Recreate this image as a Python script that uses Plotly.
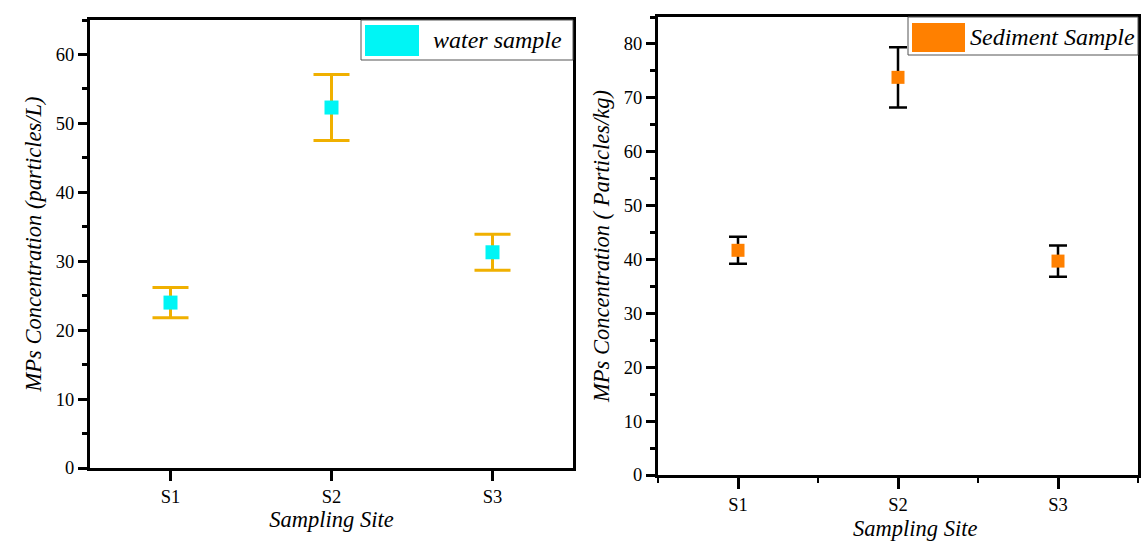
import plotly.graph_objects as go

sites = ["S1", "S2", "S3"]
water_mean = [24.0, 52.3, 31.3]
water_err = [2.2, 4.8, 2.6]
sed_mean = [41.7, 73.8, 39.7]
sed_err = [2.5, 5.6, 2.9]

xpos = list(range(1, len(sites) + 1))
FONT = "Liberation Serif"

fig = go.Figure()
fig.add_trace(go.Scatter(
    x=xpos, y=water_mean, mode="markers", name="water sample",
    marker=dict(symbol="square", size=14, color="#00F5F5"),
    error_y=dict(type="data", array=water_err, color="#F0B000", thickness=3, width=18),
    xaxis="x", yaxis="y", showlegend=False))
fig.add_trace(go.Scatter(
    x=xpos, y=sed_mean, mode="markers", name="Sediment Sample",
    marker=dict(symbol="square", size=13, color="#FF8000"),
    error_y=dict(type="data", array=sed_err, color="black", thickness=2.5, width=9),
    xaxis="x2", yaxis="y2", showlegend=False))

W, H = 1144, 548
ax_common = dict(showline=True, linecolor="black", mirror=True, showgrid=False, zeroline=False, automargin=False,
                 ticks="outside", tickcolor="black", tickfont=dict(family=FONT, size=18.5, color="black"))
TFONT = dict(family=FONT, size=22.5, color="black")

fig.update_layout(
    width=W, height=H, margin=dict(l=0, r=0, t=0, b=0),
    paper_bgcolor="white", plot_bgcolor="white",
    xaxis=dict(domain=[90/W, 573/W], range=[0.5, 3.5], tickvals=xpos, ticktext=sites,
               linewidth=3, tickwidth=3, ticklen=10, anchor="y",
               title=dict(text="<i>Sampling Site</i>", font=TFONT, standoff=0),
               **ax_common),
    yaxis=dict(domain=[(H-468)/H, (H-20)/H], range=[0, 65], tickvals=[0, 10, 20, 30, 40, 50, 60],
               linewidth=3, tickwidth=3, ticklen=9, anchor="x",
               minor=dict(dtick=5, ticklen=5, tickwidth=3, tickcolor="black", ticks="outside"),
               title=dict(text="<i>MPs Concentration (particles/L)</i>", font=TFONT, standoff=8),
               **ax_common),
    xaxis2=dict(domain=[658/W, 1138/W], range=[0.5, 3.5], tickvals=xpos, ticktext=sites,
                linewidth=3, tickwidth=3, ticklen=11, anchor="y2",
                minor=dict(tickvals=[0.5, 1.5, 2.5, 3.5], ticklen=5, tickwidth=2, tickcolor="black", ticks="outside"),
                **ax_common),
    yaxis2=dict(domain=[(H-475)/H, (H-17)/H], range=[0, 85], tickvals=[0, 10, 20, 30, 40, 50, 60, 70, 80],
                linewidth=3, tickwidth=3, ticklen=9, anchor="x2",
                minor=dict(dtick=5, ticklen=5, tickwidth=3, tickcolor="black", ticks="outside"),
                title=dict(text="<i>MPs Concentration ( Particles/kg)</i>", font=TFONT, standoff=8),
                **ax_common),
)

# right x-axis title sits tight under the tick labels
fig.add_annotation(xref="paper", yref="paper", x=915/W, y=(H-528)/H, xanchor="center", yanchor="middle",
                   text="<i>Sampling Site</i>", showarrow=False, font=TFONT)

# manual legends
fig.add_shape(type="rect", xref="x domain", yref="y domain", x0=(361-90)/483, x1=1.0, y0=1-(60-20)/448, y1=1.0,
              line=dict(color="#555555", width=1), fillcolor="white")
fig.add_shape(type="rect", xref="x domain", yref="y domain", x0=(365-90)/483, x1=(419-90)/483,
              y0=1-(56-20)/448, y1=1-(25-20)/448, line=dict(width=0), fillcolor="#00F5F5")
fig.add_annotation(xref="x domain", yref="y domain", x=(431-90)/483, y=1-(40-20)/448, xanchor="left", yanchor="middle",
                   text="<i>water sample</i>", showarrow=False, font=dict(family=FONT, size=24, color="black"))

fig.add_shape(type="rect", xref="x2 domain", yref="y2 domain", x0=(908-658)/480, x1=1.0, y0=1-(55-17)/458, y1=1.0,
              line=dict(color="#555555", width=1), fillcolor="white")
fig.add_shape(type="rect", xref="x2 domain", yref="y2 domain", x0=(912-658)/480, x1=(965-658)/480,
              y0=1-(52-17)/458, y1=1-(23-17)/458, line=dict(width=0), fillcolor="#FF8000")
fig.add_annotation(xref="x2 domain", yref="y2 domain", x=(968-658)/480, y=1-(37-17)/458, xanchor="left", yanchor="middle",
                   text="<i>Sediment Sample</i>", showarrow=False, font=dict(family=FONT, size=24, color="black"))

fig.write_html("out.html")
